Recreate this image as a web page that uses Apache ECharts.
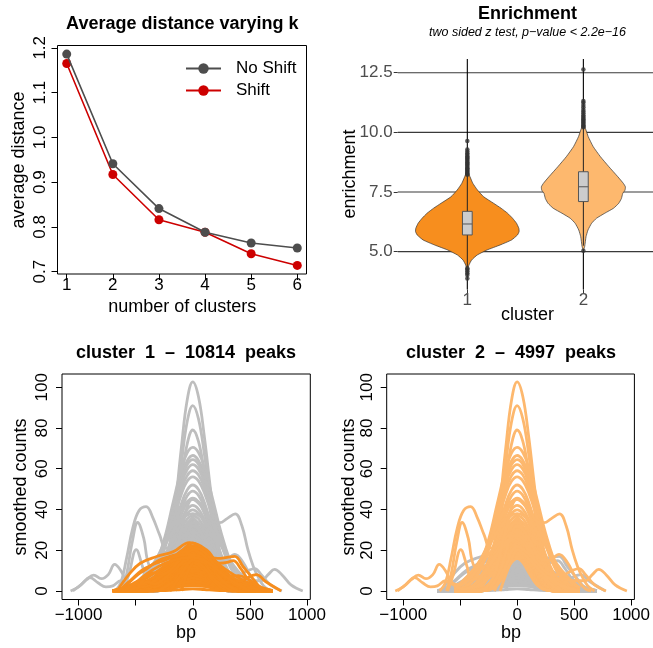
<!DOCTYPE html>
<html><head><meta charset="utf-8">
<script src="https://cdn.jsdelivr.net/npm/echarts@6/dist/echarts.min.js"></script>
<style>html,body{margin:0;padding:0;background:#fff}#c{width:653px;height:648px}</style>
</head><body><div id="c"></div>
<script>
// ---------- Panel A: average distance ----------
const kValues = [1, 2, 3, 4, 5, 6];
const distNoShift = [1.186, 0.941, 0.841, 0.788, 0.764, 0.753];
const distShift = [1.165, 0.917, 0.816, 0.788, 0.740, 0.714];
const distTicks = [0.7, 0.8, 0.9, 1.0, 1.1, 1.2];

// ---------- Panel B: enrichment violins ----------
const clusterIds = [1, 2];
const enrichTicks = [5, 7.5, 10, 12.5];
const violin1Levels = [8.42, 8.14, 7.86, 7.58, 7.30, 7.03, 6.82, 6.61, 6.40, 6.19, 5.98, 5.84, 5.70, 5.49, 5.28, 5.07, 4.86, 4.65, 4.44, 4.23];
const violin1Half   = [0, 0.023, 0.048, 0.088, 0.141, 0.226, 0.291, 0.347, 0.390, 0.424, 0.444, 0.446, 0.432, 0.381, 0.282, 0.169, 0.085, 0.037, 0.014, 0];
const violin2Levels = [10.30, 10.17, 9.82, 9.40, 8.98, 8.56, 8.14, 7.86, 7.72, 7.58, 7.44, 7.23, 7.03, 6.82, 6.61, 6.40, 6.19, 5.91, 5.63, 5.21, 5.07];
const violin2Half   = [0, 0.017, 0.042, 0.085, 0.147, 0.220, 0.297, 0.345, 0.362, 0.359, 0.339, 0.328, 0.305, 0.260, 0.184, 0.113, 0.071, 0.040, 0.023, 0.011, 0];
const boxQ1 = [5.70, 7.10];
const boxMedian = [6.16, 7.72];
const boxQ3 = [6.69, 8.35];
const whiskerLow = [4.35, 5.25];
const whiskerHigh = [8.2, 10.2];
const outliers1 = [8.22, 8.26, 8.3, 8.34, 8.38, 8.42, 8.46, 8.5, 8.55, 8.6, 8.65, 8.7, 8.75, 8.8, 8.85, 8.9, 8.95, 9.0, 9.06, 9.12, 9.2, 9.28, 9.64, 4.3, 4.25, 4.18, 4.1, 4.02, 3.88];
const outliers2 = [10.22, 10.26, 10.3, 10.35, 10.4, 10.45, 10.5, 10.55, 10.6, 10.66, 10.72, 10.8, 10.88, 10.95, 11.05, 11.15, 11.25, 11.32, 12.64, 5.04];

// ---------- Panels C/D: smoothed count profiles ----------
const bpTicks = [-1000, -500, 0, 500, 1000];
const bpLabels = [-1000, 0, 500, 1000];
const countTicks = [0, 20, 40, 60, 80, 100];

const cluster2Grid = [-550, -450, -350, -250, -175, -100, -50, 0, 50, 100, 175, 250, 350, 450, 550];
const cluster2Bells = [
  [0, 0.1, 1.0, 9.6, 32.2, 70.3, 93.4, 102.6, 95.3, 76.3, 41.5, 16.1, 2.7, 0.3, 0],
  [0, 0, 0.9, 8.6, 28.6, 62.3, 82.8, 91, 84.5, 67.7, 36.8, 14.3, 2.4, 0.2, 0],
  [0, 0, 0.8, 7.4, 24.8, 54.1, 71.9, 79, 73.4, 58.8, 31.9, 12.4, 2.1, 0.2, 0],
  [0.5, 2.6, 9.5, 25.4, 42.8, 59.9, 67.7, 70.5, 68, 60.9, 45, 28.3, 11.8, 3.7, 0.8],
  [0.5, 2.5, 9, 23.9, 40.4, 56.5, 63.8, 66.5, 64.1, 57.5, 42.5, 26.7, 11.1, 3.5, 0.8],
  [0.5, 2.4, 8.7, 23.2, 39.2, 54.8, 61.9, 64.5, 62.2, 55.7, 41.2, 25.9, 10.8, 3.4, 0.8],
  [0.4, 2.3, 8.4, 22.3, 37.6, 52.6, 59.5, 62, 59.8, 53.6, 39.6, 24.9, 10.4, 3.2, 0.7],
  [0.4, 2.2, 8, 21.2, 35.8, 50.1, 56.6, 59, 56.9, 51, 37.7, 23.7, 9.9, 3.1, 0.7],
  [0.4, 2.1, 7.6, 20.2, 34, 47.5, 53.8, 56, 54, 48.4, 35.8, 22.5, 9.4, 2.9, 0.7],
  [0.1, 1, 4.7, 15.3, 28.6, 42.8, 49.5, 52, 49.8, 43.7, 30.6, 17.6, 6.2, 1.6, 0.3],
  [0.1, 0.9, 4.5, 14.5, 27, 40.3, 46.6, 49, 46.9, 41.2, 28.9, 16.6, 5.9, 1.5, 0.3],
  [0.1, 0.9, 4.1, 13.4, 25, 37.4, 43.3, 45.5, 43.6, 38.3, 26.8, 15.4, 5.5, 1.4, 0.2],
  [0.1, 0.8, 3.8, 12.4, 23.1, 34.6, 40, 42, 40.2, 35.3, 24.7, 14.2, 5, 1.3, 0.2],
  [0.1, 0.8, 3.6, 11.7, 21.9, 32.8, 37.9, 39.8, 38.1, 33.5, 23.4, 13.5, 4.8, 1.2, 0.2],
  [0.1, 0.7, 3.4, 10.9, 20.4, 30.5, 35.2, 37, 35.4, 31.1, 21.8, 12.5, 4.4, 1.1, 0.2],
  [0.1, 0.7, 3.2, 10.3, 19.3, 28.8, 33.3, 35, 33.5, 29.4, 20.6, 11.9, 4.2, 1.1, 0.2],
  [0.1, 0.6, 3, 9.7, 18.2, 27.2, 31.4, 33, 31.6, 27.8, 19.4, 11.2, 4, 1, 0.2],
  [0.1, 0.6, 2.8, 9.1, 17.1, 25.5, 29.5, 31, 29.7, 26.1, 18.3, 10.5, 3.7, 0.9, 0.2],
  [0.2, 1.1, 3.9, 10.4, 17.6, 24.6, 27.8, 29, 28.1, 25.6, 19.8, 13.3, 6.3, 2.3, 0.7],
  [0.2, 1, 3.6, 9.7, 16.4, 22.9, 25.9, 27, 26.2, 23.8, 18.4, 12.4, 5.8, 2.2, 0.6],
  [0.2, 0.9, 3.4, 9, 15.2, 21.2, 24, 25, 24.2, 22.1, 17.1, 11.5, 5.4, 2, 0.6],
  [0.2, 0.9, 3.1, 8.3, 14, 19.5, 22.1, 23, 22.3, 20.3, 15.7, 10.5, 5, 1.8, 0.5],
  [0.2, 0.8, 2.8, 7.6, 12.7, 17.8, 20.2, 21, 20.3, 18.5, 14.3, 9.6, 4.5, 1.7, 0.5],
  [0.1, 0.7, 2.6, 6.8, 11.5, 16.1, 18.2, 19, 18.4, 16.8, 13, 8.7, 4.1, 1.5, 0.4],
  [0.1, 0.6, 2.4, 6.3, 10.6, 14.9, 16.8, 17.5, 17, 15.4, 11.9, 8, 3.8, 1.4, 0.4],
  [0.8, 5, 12.5, 23.6, 32.8, 40.6, 43.9, 45, 43.9, 40.6, 32.8, 23.6, 12.7, 5.5, 1.2],
  [1.2, 6.5, 13.1, 22.1, 29.1, 34.8, 37.2, 38, 37.2, 34.8, 29.1, 22.1, 13.1, 6.5, 1.5],
  [0, 0, 0.4, 3.4, 10.4, 21.2, 27.5, 30, 27.5, 21.2, 10.4, 3.4, 0.4, 0, 0],
  [0, 0, 0.4, 3.2, 9.7, 19.8, 25.7, 28, 25.7, 19.8, 9.7, 3.2, 0.4, 0, 0],
  [0, 0, 0.4, 3, 9, 18.4, 23.8, 26, 23.8, 18.4, 9, 3, 0.4, 0, 0],
  [0, 0, 0.3, 2.7, 8.3, 17, 22, 24, 22, 17, 8.3, 2.7, 0.3, 0, 0],
  [0, 0, 0.3, 2.5, 7.6, 15.6, 20.2, 22, 20.2, 15.6, 7.6, 2.5, 0.3, 0, 0],
  [0, 0, 0.3, 2.3, 6.9, 14.1, 18.3, 20, 18.3, 14.1, 6.9, 2.3, 0.3, 0, 0],
  [0, 0, 0.3, 2.1, 6.2, 12.7, 16.5, 18, 16.5, 12.7, 6.2, 2.1, 0.3, 0, 0],
  [0, 0, 0.2, 1.8, 5.5, 11.3, 14.7, 16, 14.7, 11.3, 5.5, 1.8, 0.2, 0, 0],
  [0, 0, 0, 1.1, 6.6, 20.7, 31.4, 36, 31.4, 20.7, 6.6, 1.1, 0, 0, 0],
  [0, 0, 0, 1.1, 6.2, 19.6, 29.6, 34, 29.6, 19.6, 6.2, 1.1, 0, 0, 0],
  [0, 0, 0, 1, 5.9, 18.4, 27.9, 32, 27.9, 18.4, 5.9, 1, 0, 0, 0],
  [0, 0, 0, 0.9, 5.5, 17.3, 26.1, 30, 26.1, 17.3, 5.5, 0.9, 0, 0, 0],
  [0, 0, 0, 0.9, 5.1, 16.1, 24.4, 28, 24.4, 16.1, 5.1, 0.9, 0, 0, 0],
  [0, 0, 0, 0.8, 4.9, 15.5, 23.5, 27, 23.5, 15.5, 4.9, 0.8, 0, 0, 0],
  [0, 0, 0, 0.8, 4.8, 15, 22.6, 26, 22.6, 15, 4.8, 0.8, 0, 0, 0],
  [0, 0, 0, 0.8, 4.6, 14.4, 21.8, 25, 21.8, 14.4, 4.6, 0.8, 0, 0, 0],
  [0, 0, 0, 0.7, 4.4, 13.8, 20.9, 24, 20.9, 13.8, 4.4, 0.7, 0, 0, 0],
  [0, 0, 0, 0.7, 4.2, 13.2, 20, 23, 20, 13.2, 4.2, 0.7, 0, 0, 0],
  [0, 0, 0, 0.7, 4, 12.7, 19.2, 22, 19.2, 12.7, 4, 0.7, 0, 0, 0],
  [0, 0, 0, 0.7, 3.8, 12.1, 18.3, 21, 18.3, 12.1, 3.8, 0.7, 0, 0, 0],
  [0, 0, 0, 0.6, 3.7, 11.5, 17.4, 20, 17.4, 11.5, 3.7, 0.6, 0, 0, 0],
  [0, 0, 0, 0.6, 3.5, 10.9, 16.5, 19, 16.5, 10.9, 3.5, 0.6, 0, 0, 0],
  [0, 0, 0, 0.6, 3.3, 10.4, 15.7, 18, 15.7, 10.4, 3.3, 0.6, 0, 0, 0],
  [0, 0, 0, 0.5, 3.1, 9.8, 14.8, 17, 14.8, 9.8, 3.1, 0.5, 0, 0, 0],
  [0, 0, 0, 0.5, 2.9, 9.2, 13.9, 16, 13.9, 9.2, 2.9, 0.5, 0, 0, 0]
];
const cluster2Side = [
  [[-680,0],[-630,4],[-580,16],[-525,31],[-470,39.5],[-408,41.4],[-350,36],[-290,27.5],[-235,21],[-170,22],[-100,28],[-40,32.5],[0,33.5],[60,30],[150,20],[250,8],[350,2],[450,0]],
  [[-620,0],[-580,8],[-530,24],[-483,33.6],[-430,26],[-387,13.3],[-330,10.5],[-250,14],[-150,22],[-50,27],[0,28],[100,22],[200,10],[300,3],[400,0]],
  [[-610,0],[-560,8],[-495,20.3],[-440,12],[-400,5.5],[-330,7],[-250,12.5],[-150,20],[-50,25],[0,26],[100,20],[200,9],[300,2],[380,0]],
  [[-1070,0],[-1000,2],[-930,5.5],[-867,7.8],[-800,6],[-740,8],[-684,13],[-630,10],[-570,4],[-500,3],[-420,6],[-330,12],[-250,18],[-150,24],[-50,28],[0,29],[100,24],[200,12],[300,3],[400,0]],
  [[-1050,0],[-980,3],[-900,6.5],[-830,4],[-760,2],[-700,2.5],[-630,5],[-560,3],[-480,1],[-400,2],[-300,8],[-200,16],[-100,24],[0,27],[100,22],[200,10],[300,3],[400,0]],
  [[-300,0],[-200,8],[-100,30],[0,45],[100,40],[180,34],[237,33.5],[300,35.5],[372,37.8],[430,32],[484,20],[530,12],[571,7],[620,2.5],[680,0]],
  [[-250,0],[-150,10],[-50,28],[0,32],[100,26],[200,16],[280,15],[368,18],[440,14],[520,6],[600,1],[650,0]],
  [[-200,0],[-100,12],[0,22],[100,18],[200,12],[300,8],[400,8],[480,10],[542,11],[600,8],[680,3],[780,0]],
  [[-150,0],[-50,15],[0,20],[100,16],[200,10],[300,6],[400,6],[500,5],[600,5],[660,8],[716,10.6],[780,8],[860,3],[963,0]]
];

const cluster1Grid = [-700, -600, -500, -400, -300, -200, -100, 0, 100, 200, 300, 400, 500, 600, 700];
const cluster1Bells = [
  [0.1, 0.5, 1.7, 4.2, 8.7, 14.5, 19.8, 22, 19.8, 14.5, 8.7, 4.2, 1.7, 0.5, 0.1],
  [0.1, 0.5, 1.6, 3.9, 8.1, 13.5, 18.5, 20.5, 18.5, 13.5, 8.1, 3.9, 1.6, 0.5, 0.1],
  [0.1, 0.5, 1.4, 3.6, 7.5, 12.5, 17.1, 19, 17.1, 12.5, 7.5, 3.6, 1.4, 0.5, 0.1],
  [0.1, 0.4, 1.3, 3.3, 6.9, 11.6, 15.8, 17.5, 15.8, 11.6, 6.9, 3.3, 1.3, 0.4, 0.1],
  [0.1, 0.4, 1.2, 3, 6.3, 10.6, 14.4, 16, 14.4, 10.6, 6.3, 3, 1.2, 0.4, 0.1],
  [0.1, 0.3, 1.1, 2.8, 5.7, 9.6, 13.1, 14.5, 13.1, 9.6, 5.7, 2.8, 1.1, 0.3, 0.1],
  [0.1, 0.3, 1, 2.5, 5.1, 8.6, 11.7, 13, 11.7, 8.6, 5.1, 2.5, 1, 0.3, 0.1],
  [0.1, 0.3, 0.9, 2.2, 4.5, 7.6, 10.4, 11.5, 10.4, 7.6, 4.5, 2.2, 0.9, 0.3, 0.1],
  [0.1, 0.2, 0.8, 1.9, 4, 6.6, 9, 10, 9, 6.6, 4, 1.9, 0.8, 0.2, 0.1],
  [0.1, 0.2, 0.6, 1.6, 3.4, 5.6, 7.7, 8.5, 7.7, 5.6, 3.4, 1.6, 0.6, 0.2, 0.1],
  [0, 0.2, 0.5, 1.3, 2.8, 4.6, 6.3, 7, 6.3, 4.6, 2.8, 1.3, 0.5, 0.2, 0],
  [0, 0.1, 0.4, 1, 2.2, 3.6, 5, 5.5, 5, 3.6, 2.2, 1, 0.4, 0.1, 0],
  [0, 0.1, 0.3, 0.8, 1.6, 2.6, 3.6, 4, 3.6, 2.6, 1.6, 0.8, 0.3, 0.1, 0],
  [0, 0.1, 0.2, 0.5, 1, 1.7, 2.3, 2.5, 2.3, 1.7, 1, 0.5, 0.2, 0.1, 0],
  [0.2, 1.8, 3.7, 6.5, 10.1, 14, 16.9, 18, 16.9, 14, 10.1, 6.5, 3.7, 1.8, 0.2],
  [0.2, 1.4, 2.8, 5, 7.9, 10.9, 13.1, 14, 13.1, 10.9, 7.9, 5, 2.8, 1.4, 0.2],
  [0.2, 1, 2, 3.6, 5.6, 7.8, 9.4, 10, 9.4, 7.8, 5.6, 3.6, 2, 1, 0.2],
  [0.1, 0.6, 1.2, 2.2, 3.4, 4.7, 5.6, 6, 5.6, 4.7, 3.4, 2.2, 1.2, 0.6, 0.1],
  [0, 0, 0.2, 1, 4, 10.8, 19.3, 23.5, 19.3, 10.8, 4, 1, 0.2, 0, 0],
  [0, 0, 0.2, 0.9, 3.6, 9.6, 17.3, 21, 17.3, 9.6, 3.6, 0.9, 0.2, 0, 0],
  [0, 0, 0.1, 0.8, 3.2, 8.5, 15.2, 18.5, 15.2, 8.5, 3.2, 0.8, 0.1, 0, 0],
  [0, 0, 0.1, 0.7, 2.7, 7.1, 12.8, 15.5, 12.8, 7.1, 2.7, 0.7, 0.1, 0, 0],
  [0, 0, 0.1, 0.6, 2.2, 5.7, 10.3, 12.5, 10.3, 5.7, 2.2, 0.6, 0.1, 0, 0],
  [0, 0, 0, 0.1, 0.9, 5, 14.1, 20, 14.1, 5, 0.9, 0.1, 0, 0, 0],
  [0, 0, 0, 0.1, 0.7, 4, 11.3, 16, 11.3, 4, 0.7, 0.1, 0, 0, 0],
  [0, 0, 0, 0, 0.5, 3, 8.5, 12, 8.5, 3, 0.5, 0, 0, 0, 0],
  [0, 0, 0, 0, 0.4, 2, 5.7, 8, 5.7, 2, 0.4, 0, 0, 0, 0],
  [0, 0, 0, 0, 0.2, 1, 2.8, 4, 2.8, 1, 0.2, 0, 0, 0, 0],
  [0, 0, 0, 0.1, 1.1, 4.7, 11.3, 15.2, 11.3, 4.7, 1.1, 0.1, 0, 0, 0],
  [0, 0, 0, 0.1, 1, 4.2, 10.2, 13.7, 10.2, 4.2, 1, 0.1, 0, 0, 0],
  [0, 0, 0, 0.1, 0.9, 3.8, 9.2, 12.3, 9.2, 3.8, 0.9, 0.1, 0, 0, 0],
  [0, 0, 0, 0.1, 0.8, 3.3, 8, 10.8, 8, 3.3, 0.8, 0.1, 0, 0, 0],
  [0, 0, 0, 0.1, 0.6, 2.8, 6.8, 9.2, 6.8, 2.8, 0.6, 0.1, 0, 0, 0],
  [0, 0, 0, 0.1, 0.5, 2.4, 5.7, 7.7, 5.7, 2.4, 0.5, 0.1, 0, 0, 0],
  [0, 0, 0, 0.1, 0.4, 1.9, 4.7, 6.3, 4.7, 1.9, 0.4, 0.1, 0, 0, 0],
  [0, 0, 0, 0, 0.3, 1.5, 3.6, 4.8, 3.6, 1.5, 0.3, 0, 0, 0, 0],
  [0, 0, 0, 0, 0.2, 1, 2.4, 3.2, 2.4, 1, 0.2, 0, 0, 0, 0],
  [0, 0, 0, 0, 0.1, 0.3, 0.7, 1, 0.7, 0.3, 0.1, 0, 0, 0, 0]
];
const cluster1Side = [
  [[-663,0],[-560,8],[-460,13.6],[-316,16.9],[-170,19.3],[-30,23.7],[121,20.1],[237,13.6],[300,14],[353,14.9],[420,11],[480,6],[527,3.6],[600,1],[672,0]],
  [[-640,0],[-560,4],[-480,8],[-400,11],[-300,15],[-200,17],[-100,18.5],[0,21],[100,19],[200,12],[300,6],[400,2],[480,0]],
  [[-300,0],[-150,5],[0,10],[150,8],[300,4.5],[420,5],[556,8],[640,4.5],[774,0]],
  [[-100,0],[0,14],[100,17],[220,16],[300,16.5],[368,17],[440,12],[513,7],[570,3],[629,0]],
  [[-620,0],[-540,3],[-460,5],[-380,4],[-300,6.5],[-200,10],[-100,13],[0,14],[100,10],[200,4],[300,0]],
  [[-560,0],[-470,2],[-400,4.5],[-330,3.5],[-250,6],[-150,11],[-50,15],[50,14],[150,8],[250,3],[350,0]],
  [[-500,0],[-420,6],[-350,9],[-280,8],[-200,10],[-100,16],[0,20],[100,17],[200,9],[300,3],[400,0]],
  [[-200,0],[-100,8],[0,15],[100,14],[200,10],[300,7],[400,7.5],[480,6],[560,3],[640,0]],
  [[-650,0],[-550,5],[-450,10],[-350,13],[-250,15],[-150,17],[-50,18],[50,17],[150,13],[250,8],[350,4],[450,1],[520,0]],
  [[-600,0],[-500,4],[-400,8.5],[-300,12],[-200,14.5],[-100,16],[0,16.5],[100,15],[200,11],[300,6.5],[400,3],[500,0]]
];

// ---------- build ----------
const FONT = "'Liberation Sans', Arial, Helvetica, sans-serif";
const ORANGE = '#F78E1E', LIGHT = '#FDB86E', GREY = '#BEBEBE';
const violinLevels = [violin1Levels, violin2Levels];
const violinHalf = [violin1Half, violin2Half];
const violinFill = [ORANGE, LIGHT];
const BOX_HALF = 0.042;

function gridProfiles(grid, bells) { return bells.map(b => grid.map((x, i) => [x, b[i]])); }
const profiles1 = gridProfiles(cluster1Grid, cluster1Bells).concat(cluster1Side);
const profiles2 = gridProfiles(cluster2Grid, cluster2Bells).concat(cluster2Side);

function curveSeries(list, axis, color) {
  return list.map(pts => ({
    type: 'line', name: 'profile', xAxisIndex: axis, yAxisIndex: axis, data: pts,
    smooth: 0.4, symbol: 'none', silent: true, clip: true,
    lineStyle: { color: color, width: 2.8 }, z: 2
  }));
}

const minus = v => (v < 0 ? '\u2212' + Math.abs(v) : String(v));
const noLine = { show: false, onZero: false };

const option = {
  animation: false,
  backgroundColor: '#fff',
  textStyle: { fontFamily: FONT },
  grid: [
    { left: 57.5, top: 45.5, width: 249, height: 228.5, show: true, borderColor: '#000', borderWidth: 1, backgroundColor: 'transparent' },
    { left: 397.7, top: 58.9, width: 259.6, height: 230.7, show: false },
    { left: 62, top: 374, width: 248.3, height: 225.5, show: true, borderColor: '#000', borderWidth: 1, backgroundColor: 'transparent' },
    { left: 386.7, top: 374, width: 248.3, height: 225.5, show: true, borderColor: '#000', borderWidth: 1, backgroundColor: 'transparent' }
  ],
  xAxis: [
    { gridIndex: 0, type: 'value', min: 0.8, max: 6.2, axisLine: noLine, splitLine: { show: false },
      axisTick: { show: true, customValues: kValues, length: 6, lineStyle: { color: '#000' } },
      axisLabel: { customValues: kValues, fontSize: 17, color: '#000', margin: 3 } },
    { gridIndex: 1, type: 'value', min: 0.4, max: 2.6, axisLine: noLine, splitLine: { show: false },
      axisTick: { show: true, customValues: clusterIds, length: 4, lineStyle: { color: '#333' } },
      axisLabel: { customValues: clusterIds, fontSize: 17, color: '#4D4D4D', margin: 2 } },
    { gridIndex: 2, type: 'value', min: -1145, max: 1029, axisLine: noLine, splitLine: { show: false },
      axisTick: { show: true, customValues: bpTicks, length: 6, lineStyle: { color: '#000' } },
      axisLabel: { customValues: bpLabels, fontSize: 17, color: '#000', margin: 7, formatter: minus } },
    { gridIndex: 3, type: 'value', min: -1145, max: 1029, axisLine: noLine, splitLine: { show: false },
      axisTick: { show: true, customValues: bpTicks, length: 6, lineStyle: { color: '#000' } },
      axisLabel: { customValues: bpLabels, fontSize: 17, color: '#000', margin: 7, formatter: minus } }
  ],
  yAxis: [
    { gridIndex: 0, type: 'value', min: 0.69485, max: 1.20515, axisLine: noLine, splitLine: { show: false },
      axisTick: { show: true, customValues: distTicks, length: 6, lineStyle: { color: '#000' } },
      axisLabel: { customValues: distTicks, rotate: 90, fontSize: 17, color: '#000', margin: 9, formatter: v => v.toFixed(1) } },
    { gridIndex: 1, type: 'value', min: 3.41, max: 13.08, axisLine: noLine, splitLine: { show: false },
      axisTick: { show: true, customValues: enrichTicks, length: 4, lineStyle: { color: '#333' } },
      axisLabel: { customValues: enrichTicks, fontSize: 17, color: '#4D4D4D', margin: 5, formatter: v => v.toFixed(1) } },
    { gridIndex: 2, type: 'value', min: -4.2, max: 106.5, axisLine: noLine, splitLine: { show: false },
      axisTick: { show: true, customValues: countTicks, length: 6, lineStyle: { color: '#000' } },
      axisLabel: { customValues: countTicks, rotate: 90, fontSize: 17, color: '#000', margin: 11 } },
    { gridIndex: 3, type: 'value', min: -4.2, max: 106.5, axisLine: noLine, splitLine: { show: false },
      axisTick: { show: true, customValues: countTicks, length: 6, lineStyle: { color: '#000' } },
      axisLabel: { customValues: countTicks, rotate: 90, fontSize: 17, color: '#000', margin: 11 } }
  ],
  legend: {
    data: ['No Shift', 'Shift'], orient: 'vertical', left: 180, top: 55,
    itemWidth: 35, itemHeight: 13, itemGap: 5,
    textStyle: { fontSize: 17, color: '#000', lineHeight: 17, padding: [0, 0, 0, 10] }
  },
  graphic: [],
  series: []
};

const T = (text, x, y, size, opts) => Object.assign({ type: 'text', x, y, silent: true,
  style: { text, fontSize: size, fontFamily: FONT, fill: '#000', align: 'center', verticalAlign: 'middle',
           fontWeight: (opts && opts.bold) ? 'bold' : 'normal', fontStyle: (opts && opts.italic) ? 'italic' : 'normal' } },
  (opts && opts.rot) ? { rotation: Math.PI / 2 } : {});
option.graphic = [
  T('Average distance varying k', 182.3, 24.5, 18, { bold: true }),
  T('number of clusters', 182.3, 307.5, 18),
  T('average distance', 19, 160, 18, { rot: true }),
  T('Enrichment', 527.5, 14.5, 18, { bold: true }),
  T('two sided z test, p\u2212value < 2.2e\u221216', 527.5, 32.4, 12.5, { italic: true }),
  T('enrichment', 350, 174, 18, { rot: true }),
  T('cluster', 527.5, 315.5, 18),
  T('cluster  1  \u2013  10814  peaks', 186, 353, 18, { bold: true }),
  T('cluster  2  \u2013  4997  peaks', 511, 353, 18, { bold: true }),
  T('smoothed counts', 21.5, 487, 18, { rot: true }),
  T('smoothed counts', 349, 487, 18, { rot: true }),
  T('bp', 186, 633.3, 18),
  T('bp', 511, 633.3, 18)
];

const S = option.series;
// Panel A
S.push({ type: 'line', name: 'Shift', xAxisIndex: 0, yAxisIndex: 0, data: kValues.map((k, i) => [k, distShift[i]]),
  symbol: 'circle', symbolSize: 9, itemStyle: { color: '#CD0000' }, lineStyle: { color: '#CD0000', width: 1.6 }, z: 3 });
S.push({ type: 'line', name: 'No Shift', xAxisIndex: 0, yAxisIndex: 0, data: kValues.map((k, i) => [k, distNoShift[i]]),
  symbol: 'circle', symbolSize: 9, itemStyle: { color: '#4D4D4D' }, lineStyle: { color: '#4D4D4D', width: 1.6 }, z: 4 });
// Panel B gridlines
enrichTicks.forEach(v => S.push({ type: 'line', name: 'grid', xAxisIndex: 1, yAxisIndex: 1, data: [[0.4, v], [2.6, v]],
  symbol: 'none', silent: true, lineStyle: { color: '#3a3a3a', width: 1.1 }, z: 1 }));
clusterIds.forEach(c => S.push({ type: 'line', name: 'grid', xAxisIndex: 1, yAxisIndex: 1, data: [[c, 3.41], [c, 13.08]],
  symbol: 'none', silent: true, lineStyle: { color: '#000', width: 1.1 }, z: 1 }));
// violins
S.push({ type: 'custom', name: 'violin', xAxisIndex: 1, yAxisIndex: 1, z: 2, silent: true,
  data: clusterIds.map(c => [c]), encode: { x: 0 },
  renderItem: function (params, api) {
    const i = params.dataIndex, c = clusterIds[i];
    const lv = violinLevels[i], hw = violinHalf[i];
    const right = lv.map((y, k) => api.coord([c + hw[k], y]));
    const left = lv.slice(1, -1).map((y, k) => api.coord([c - hw[k + 1], y])).reverse();
    const wl = api.coord([c, whiskerLow[i]]), wh = api.coord([c, whiskerHigh[i]]);
    const b1 = api.coord([c - BOX_HALF, boxQ3[i]]), b2 = api.coord([c + BOX_HALF, boxQ1[i]]);
    const m1 = api.coord([c - BOX_HALF, boxMedian[i]]), m2 = api.coord([c + BOX_HALF, boxMedian[i]]);
    return { type: 'group', children: [
      { type: 'polygon', shape: { points: right.concat(left), smooth: 0.15 }, style: { fill: violinFill[i], stroke: '#333', lineWidth: 0.7 } },
      { type: 'line', shape: { x1: wl[0], y1: wl[1], x2: wh[0], y2: wh[1] }, style: { stroke: '#222', lineWidth: 1 } },
      { type: 'rect', shape: { x: b1[0], y: b1[1], width: b2[0] - b1[0], height: b2[1] - b1[1] }, style: { fill: '#CCCCCC', stroke: '#555', lineWidth: 1 } },
      { type: 'line', shape: { x1: m1[0], y1: m1[1], x2: m2[0], y2: m2[1] }, style: { stroke: '#555', lineWidth: 1 } }
    ] };
  } });
S.push({ type: 'scatter', name: 'out', xAxisIndex: 1, yAxisIndex: 1, silent: true, z: 3,
  data: outliers1.map(v => [1, v]).concat(outliers2.map(v => [2, v])),
  symbolSize: 4.5, itemStyle: { color: '#333' } });
// Panels C and D
curveSeries(profiles2, 2, GREY).forEach(s => S.push(s));
curveSeries(profiles1, 2, ORANGE).forEach(s => S.push(s));
curveSeries(profiles1, 3, GREY).forEach(s => S.push(s));
curveSeries(profiles2, 3, LIGHT).forEach(s => S.push(s));

const chart = echarts.init(document.getElementById('c'), null, { renderer: 'canvas', width: 653, height: 648 });
chart.setOption(option);
</script>
</body></html>
